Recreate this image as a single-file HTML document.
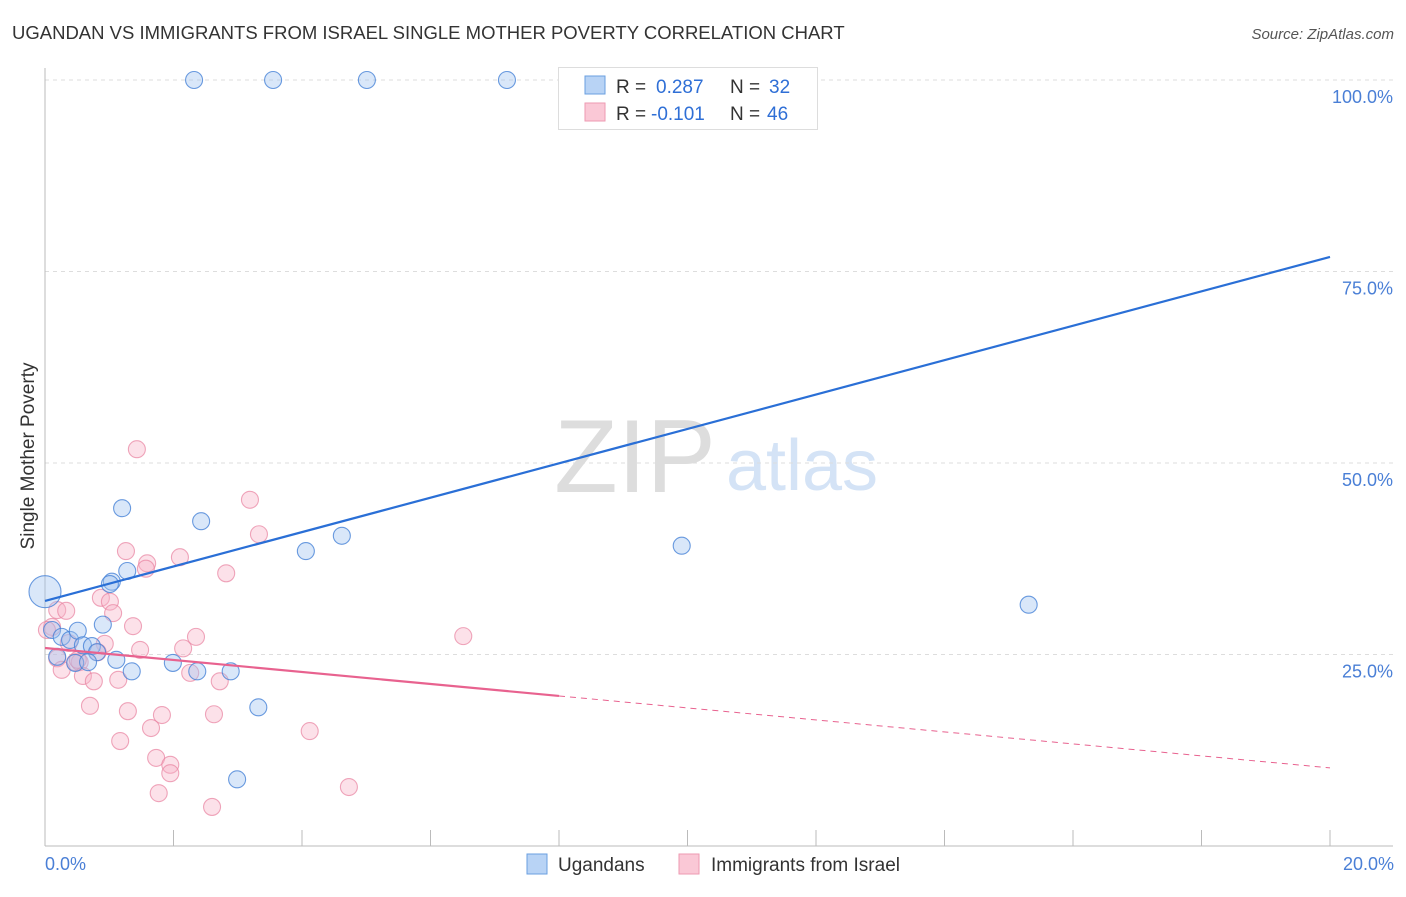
<!DOCTYPE html>
<html><head><meta charset="utf-8"><style>
body{margin:0;background:#fff;font-family:"Liberation Sans",sans-serif}
svg text{font-family:"Liberation Sans",sans-serif}
</style></head><body>
<svg id="c" width="1406" height="892">
<text x="12" y="39" font-size="18.5" fill="#333">UGANDAN VS IMMIGRANTS FROM ISRAEL SINGLE MOTHER POVERTY CORRELATION CHART</text>
<text x="1394" y="39" font-size="15" fill="#555" font-style="italic" text-anchor="end">Source: ZipAtlas.com</text>
<g>
<text x="635" y="492" font-size="104" font-family="Liberation Serif" fill="#ddd" text-anchor="middle">ZIP</text>
<text x="802" y="490" font-size="72" fill="#d4e3f6" text-anchor="middle">atlas</text>
</g>
<g id="grid"></g><g id="axes"></g><g id="marks"></g>
<text transform="translate(34,456) rotate(-90)" font-size="19" fill="#333" text-anchor="middle">Single Mother Poverty</text>
<text x="45" y="870" font-size="18" fill="#4a7fd6">0.0%</text>
<text x="1394" y="870" font-size="18" fill="#4a7fd6" text-anchor="end">20.0%</text>
<g>
<rect x="558.5" y="67.5" width="259" height="62" fill="#fff" stroke="#ddd"/>
<rect x="585" y="76" width="20" height="18" fill="#b8d3f5" stroke="#6a9fe0"/>
<text x="616" y="93" font-size="19" fill="#333">R =</text>
<text x="656" y="93" font-size="19" fill="#2f6fd6">0.287</text>
<text x="730" y="93" font-size="19" fill="#333">N =</text>
<text x="769" y="93" font-size="19" fill="#2f6fd6">32</text>
<rect x="585" y="103" width="20" height="18" fill="#fac8d6" stroke="#ee9ab2"/>
<text x="616" y="120" font-size="19" fill="#333">R =</text>
<text x="651" y="120" font-size="19" fill="#2f6fd6">-0.101</text>
<text x="730" y="120" font-size="19" fill="#333">N =</text>
<text x="767" y="120" font-size="19" fill="#2f6fd6">46</text>
</g>
<g>
<rect x="527" y="854" width="20" height="20" fill="#b8d3f5" stroke="#6a9fe0"/>
<text x="558" y="871" font-size="19" fill="#333">Ugandans</text>
<rect x="679" y="854" width="20" height="20" fill="#fac8d6" stroke="#ee9ab2"/>
<text x="711" y="871" font-size="19" fill="#333">Immigrants from Israel</text>
</g>
</svg>
<script>
const yTicks=[25,50,75,100];
const blueX=[2.32,3.55,5.01,7.19,1.20,2.43,4.06,4.62,9.91,15.31,0,1.04,1.01,1.28,0.11,0.26,0.39,0.51,0.59,0.73,0.81,0.90,0.47,0.67,1.11,1.35,1.99,2.37,2.89,3.32,2.99,0.19];
const blueY=[100,100,100,100,44.1,42.4,38.5,40.5,39.2,31.5,33.2,34.5,34.2,35.9,28.2,27.3,26.9,28.1,26.2,26.1,25.3,28.9,23.9,24.0,24.3,22.8,23.9,22.8,22.8,18.1,8.7,24.7];
const pinkX=[1.43,3.19,3.33,1.26,1.59,1.57,2.10,2.82,0.87,1.01,1.06,0.19,0.33,0.11,1.37,0.93,1.48,2.15,2.35,6.51,0.37,0.19,0.26,0.47,0.54,0.59,0.76,1.14,2.26,2.72,0.70,1.29,1.82,2.63,1.65,4.12,1.17,1.73,1.95,1.95,1.77,2.60,4.73,0.03,0.82,0.51];
const pinkY=[51.8,45.2,40.7,38.5,36.9,36.2,37.7,35.6,32.4,31.9,30.4,30.8,30.7,28.6,28.7,26.4,25.6,25.8,27.3,27.4,26.5,24.5,23.0,24.0,24.0,22.2,21.5,21.7,22.6,21.5,18.3,17.6,17.1,17.2,15.4,15.0,13.7,11.5,10.6,9.5,6.9,5.1,7.7,28.2,25.3,24.3];
const blueTrend=[32.0,76.9];
const pinkTrend=[25.85,10.2];
const pinkSolidEnd=8.0;
const X=v=>45+v/20*1285, Y=v=>846-v/100*766;
const NS='http://www.w3.org/2000/svg';
function mk(p,t,a){const e=document.createElementNS(NS,t);for(const k in a)e.setAttribute(k,a[k]);p.appendChild(e);return e;}
const grid=document.getElementById('grid'),axes=document.getElementById('axes'),marks=document.getElementById('marks');
yTicks.forEach(t=>{
 const l=mk(grid,'line',{x1:45,x2:1393,y1:Y(t),y2:Y(t),stroke:'#ddd','stroke-dasharray':'4,4'});
 
 
 const tx=mk(grid,'text',{x:1393,y:Y(t)+23,'font-size':18,fill:'#4a7fd6','text-anchor':'end'});
 tx.textContent=t.toFixed(1)+'%';
 
 
});
const ax=mk(axes,'line',{x1:45,x2:45,y1:68,y2:846,stroke:'#bbb'});


const bx=mk(axes,'line',{x1:45,x2:1393,y1:846,y2:846,stroke:'#bbb'});


for(let i=1;i<=10;i++){const t=mk(axes,'line',{x1:X(i*2),x2:X(i*2),y1:830,y2:846,stroke:'#bbb'});
 
 }
function pts(xs,ys,fill,stroke,name){xs.forEach((x,i)=>{
 const r=(x===0&&name==='ugandan')?16:8.5;
 const c=mk(marks,'circle',{cx:X(x),cy:Y(ys[i]),r:r,fill:fill,stroke:stroke,'stroke-width':1.1});
 
 });}
pts(pinkX,pinkY,'rgba(248,180,200,0.4)','rgba(232,130,160,0.7)','israel');
pts(blueX,blueY,'rgba(160,195,240,0.4)','rgba(70,130,215,0.8)','ugandan');
const bl=mk(marks,'line',{x1:X(0),y1:Y(blueTrend[0]),x2:X(20),y2:Y(blueTrend[1]),stroke:'#2a6fd6','stroke-width':2.2});


const py=v=>pinkTrend[0]+(pinkTrend[1]-pinkTrend[0])*v/20;
const pl=mk(marks,'line',{x1:X(0),y1:Y(pinkTrend[0]),x2:X(pinkSolidEnd),y2:Y(py(pinkSolidEnd)),stroke:'#e8628f','stroke-width':2.2});


const pd=mk(marks,'line',{x1:X(pinkSolidEnd),y1:Y(py(pinkSolidEnd)),x2:X(20),y2:Y(pinkTrend[1]),stroke:'#e8628f','stroke-width':1,'stroke-dasharray':'6,5'});


</script>
</body></html>
